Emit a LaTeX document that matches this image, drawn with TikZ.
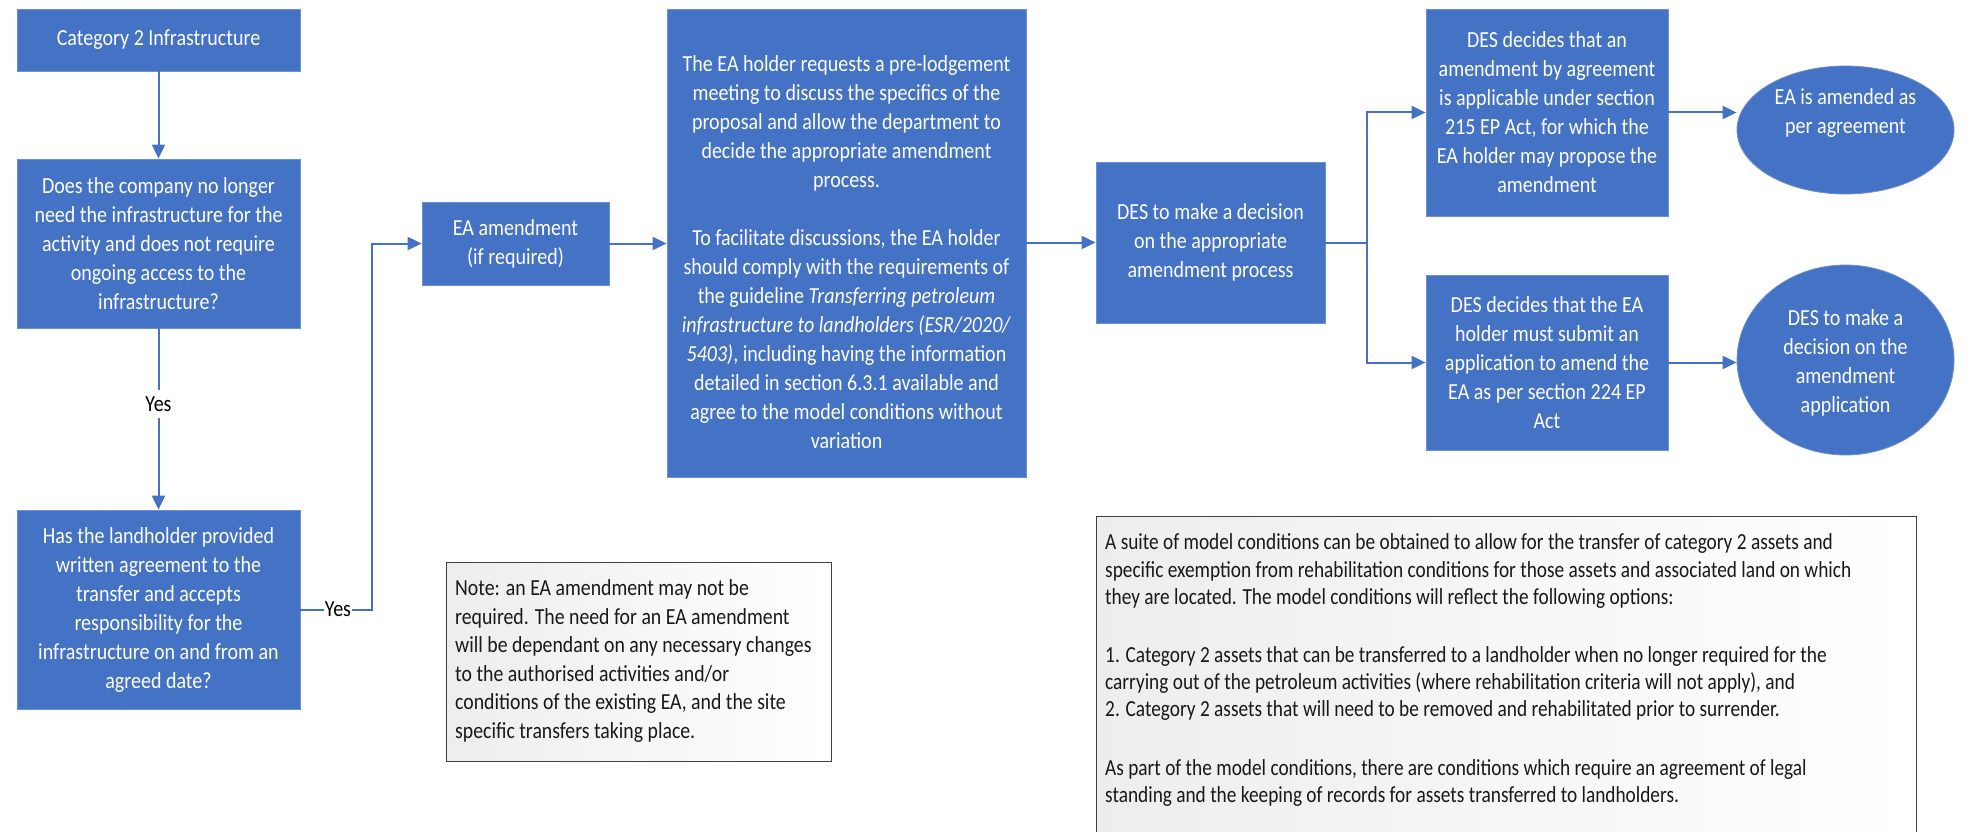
\documentclass[tikz,border=0pt]{standalone}
\usepackage{fontspec}
\setmainfont{Carlito}[FakeStretch=0.87]
\newfontfamily\notefamily{Carlito}[FakeStretch=0.86]
\newfontfamily\bignotefamily{Carlito}[FakeStretch=0.84]
\usetikzlibrary{shapes.geometric,arrows.meta}
\definecolor{boxblue}{HTML}{4472C4}
\definecolor{boxedge}{HTML}{6C90D2}
\definecolor{linkblue}{HTML}{4472C4}
\newcommand{\bxfont}{\fontsize{23}{29}\selectfont}
\newcommand{\ntfont}{\notefamily\fontsize{23}{28.5}\selectfont}
\newcommand{\bgfont}{\bignotefamily\fontsize{23}{27.2}\selectfont}
\begin{document}
\begin{tikzpicture}[x=1pt,y=-1pt,
  bbox/.style={rectangle, fill=boxblue, draw=boxedge, line width=0.8pt, inner sep=0pt, text=white, align=center, font=\bxfont},
  wtext/.style={text=white, align=center, font=\bxfont, inner sep=0pt},
  ebox/.style={ellipse, fill=boxblue, draw=boxedge, line width=0.8pt, inner sep=0pt},
  link/.style={draw=linkblue, line width=2pt},
  arr/.style={link, -{Triangle[length=14pt,width=13pt]}},
  lbl/.style={text=black, font=\bxfont, inner xsep=1pt, inner ysep=6pt},
  notebox/.style={rectangle, draw=black!75, line width=1pt, left color=black!7, right color=white, inner sep=0pt},
  ntext/.style={text=black!90, align=left, font=\ntfont, inner sep=0pt, anchor=west}
]
\useasboundingbox (0,0) rectangle (1968,832);
\fill[white] (0,0) rectangle (1968,832);

% left column
\node[bbox, minimum width=283pt, minimum height=62pt] (c1) at (158.5,40) {Category 2 Infrastructure};
\node[bbox, minimum width=283pt, minimum height=169pt] (q1) at (158.5,243.5)
  {Does the company no longer\\need the infrastructure for the\\activity and does not require\\ongoing access to the\\infrastructure?};
\node[bbox, minimum width=283pt, minimum height=199pt] (q2) at (158.5,609.5)
  {Has the landholder provided\\written agreement to the\\transfer and accepts\\responsibility for the\\infrastructure on and from an\\agreed date?};
\node[lbl] (yes1) at (158.5,404) {Yes};
\node[lbl] (yes2) at (338,609.5) {Yes};
\coordinate (turn) at (372,609.5);

% middle
\node[bbox, minimum width=187pt, minimum height=83pt] (ea) at (515.5,243.5) {EA amendment\\(if required)};
\node[bbox, minimum width=359pt, minimum height=468pt] (big) at (846.5,243) {};
\node[wtext] (bigt) at (846.5,252)
  {The EA holder requests a pre-lodgement\\meeting to discuss the specifics of the\\proposal and allow the department to\\decide the appropriate amendment\\process.\\[29pt]
   To facilitate discussions, the EA holder\\should comply with the requirements of\\the guideline \textit{Transferring petroleum}\\\textit{infrastructure to landholders (ESR/2020/}\\\textit{5403)}, including having the information\\detailed in section 6.3.1 available and\\agree to the model conditions without\\variation};
\node[bbox, minimum width=229pt, minimum height=161pt] (des) at (1210.5,242.5)
  {DES to make a decision\\on the appropriate\\amendment process};

% right
\node[bbox, minimum width=242pt, minimum height=207pt] (tr) at (1547,112.5)
  {DES decides that an\\amendment by agreement\\is applicable under section\\215 EP Act, for which the\\EA holder may propose the\\amendment};
\node[bbox, minimum width=242pt, minimum height=175pt] (br) at (1547,362.5)
  {DES decides that the EA\\holder must submit an\\application to amend the\\EA as per section 224 EP\\Act};
\node[ebox, minimum width=217pt, minimum height=128pt] (e1) at (1845.5,130) {};
\node[wtext] (e1t) at (1845.5,113) {EA is amended as\\per agreement};
\node[ebox, minimum width=217pt, minimum height=190pt] (e2) at (1845.5,360) {};
\node[wtext] (e2t) at (1845.5,363) {DES to make a\\decision on the\\amendment\\application};
\coordinate (bx) at (1367,242.5);

% notes
\node[notebox, minimum width=385pt, minimum height=199pt] (n1) at (638.5,661.5) {};
\node[ntext] (n1t) at (455,661)
  {Note: an EA amendment may not be\\required. The need for an EA amendment\\will be dependant on any necessary changes\\to the authorised activities and/or\\conditions of the existing EA, and the site\\specific transfers taking place.};
\begin{scope}
\clip (0,0) rectangle (1968,832);
\node[notebox, minimum width=820pt, minimum height=370pt] (n2) at (1506,701) {};
\end{scope}
\node[ntext, font=\bgfont] (n2t) at (1105,670)
  {A suite of model conditions can be obtained to allow for the transfer of category 2 assets and\\specific exemption from rehabilitation conditions for those assets and associated land on which\\they are located. The model conditions will reflect the following options:\\[31pt]
   1. Category 2 assets that can be transferred to a landholder when no longer required for the\\carrying out of the petroleum activities (where rehabilitation criteria will not apply), and\\2. Category 2 assets that will need to be removed and rehabilitated prior to surrender.\\[31pt]
   As part of the model conditions, there are conditions which require an agreement of legal\\standing and the keeping of records for assets transferred to landholders.};

% connectors
\draw[arr] (c1.south) -- (q1.north);
\draw[link] (q1.south) -- (yes1.north);
\draw[arr] (yes1.south) -- (q2.north);
\draw[link] (q2.east) -- (yes2.west);
\draw[arr] (yes2.east) -- (turn) |- (ea.west);
\draw[arr] (ea.east) -- (big.west |- ea.east);
\draw[arr] (big.east |- des.west) -- (des.west);
\draw[link] (des.east) -- (bx);
\draw[arr] (bx) |- (tr.west);
\draw[arr] (bx) |- (br.west);
\draw[arr] (tr.east) -- (tr.east -| e1.west);
\draw[arr] (br.east) -- (br.east -| e2.west);
\end{tikzpicture}
\end{document}
